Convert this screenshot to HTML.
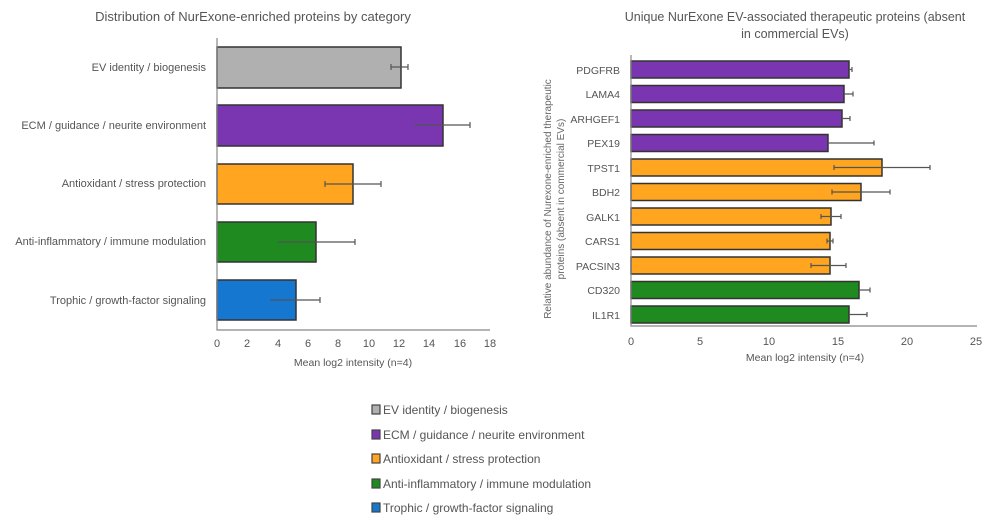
<!DOCTYPE html>
<html><head><meta charset="utf-8"><style>
html,body{margin:0;padding:0;background:#fff;}
svg{display:block;font-family:"Liberation Sans",sans-serif;}
</style></head><body>
<svg width="1000" height="523" viewBox="0 0 1000 523" xmlns="http://www.w3.org/2000/svg">
<rect width="1000" height="523" fill="#fff"/>
<!-- LEFT CHART -->
<text x="253" y="21" font-size="13" fill="#555" text-anchor="middle">Distribution of NurExone-enriched proteins by category</text>
<g font-size="11" fill="#555" text-anchor="end">
<text x="206" y="71">EV identity / biogenesis</text>
<text x="206" y="129">ECM / guidance / neurite environment</text>
<text x="206" y="187">Antioxidant / stress protection</text>
<text x="206" y="245">Anti-inflammatory / immune modulation</text>
<text x="206" y="304">Trophic / growth-factor signaling</text>
</g>
<g stroke="#333" stroke-width="1.5">
<rect x="217" y="47" width="184" height="41" fill="#b0b0b0"/>
<rect x="217" y="105" width="226" height="41" fill="#7a35b0"/>
<rect x="217" y="164" width="136" height="40" fill="#ffa51f"/>
<rect x="217" y="222" width="99" height="40" fill="#1f8a1f"/>
<rect x="217" y="280" width="79" height="40" fill="#1577d0"/>
</g>
<g stroke="#555" stroke-width="1.2">
<path d="M391 67H408M391 64v6M408 64v6"/>
<path d="M414 125H470M470 122v6"/>
<path d="M325 184H381M325 181v6M381 181v6"/>
<path d="M278 242H355M355 239v6"/>
<path d="M270 300H320M320 297v6"/>
</g>
<path d="M217 38V330H490" stroke="#888" stroke-width="1.2" fill="none"/>
<g font-size="11" fill="#555" text-anchor="middle">
<text x="217" y="347">0</text><text x="247" y="347">2</text><text x="278" y="347">4</text><text x="308" y="347">6</text><text x="338" y="347">8</text><text x="369" y="347">10</text><text x="399" y="347">12</text><text x="429" y="347">14</text><text x="460" y="347">16</text><text x="490" y="347">18</text>
<text x="353" y="366" font-size="10.5">Mean log2 intensity (n=4)</text>
</g>
<!-- RIGHT CHART -->
<g font-size="12.5" fill="#555" text-anchor="middle">
<text x="795" y="21">Unique NurExone EV-associated therapeutic proteins (absent</text>
<text x="795" y="38">in commercial EVs)</text>
</g>
<g font-size="10" fill="#666" text-anchor="middle">
<text transform="translate(551,199) rotate(-90)">Relative abundance of Nurexone-enriched therapeutic</text>
<text transform="translate(564,199) rotate(-90)">proteins (absent in commercial EVs)</text>
</g>
<g font-size="10.5" fill="#555" text-anchor="end">
<text x="620" y="74">PDGFRB</text><text x="620" y="98">LAMA4</text><text x="620" y="123">ARHGEF1</text><text x="620" y="147">PEX19</text><text x="620" y="172">TPST1</text><text x="620" y="196">BDH2</text><text x="620" y="221">GALK1</text><text x="620" y="245">CARS1</text><text x="620" y="270">PACSIN3</text><text x="620" y="294">CD320</text><text x="620" y="319">IL1R1</text>
</g>
<g stroke="#333" stroke-width="1.5">
<rect x="631" y="61" width="218" height="17" fill="#7a35b0"/>
<rect x="631" y="85.5" width="213" height="17" fill="#7a35b0"/>
<rect x="631" y="110" width="211" height="17" fill="#7a35b0"/>
<rect x="631" y="134.5" width="197" height="17" fill="#7a35b0"/>
<rect x="631" y="159" width="251" height="17" fill="#ffa51f"/>
<rect x="631" y="183.5" width="230" height="17" fill="#ffa51f"/>
<rect x="631" y="208" width="200" height="17" fill="#ffa51f"/>
<rect x="631" y="232.5" width="199" height="17" fill="#ffa51f"/>
<rect x="631" y="257" width="199" height="17" fill="#ffa51f"/>
<rect x="631" y="281.5" width="228" height="17" fill="#1f8a1f"/>
<rect x="631" y="306" width="218" height="17" fill="#1f8a1f"/>
</g>
<g stroke="#555" stroke-width="1.2">
<path d="M849 69.5H852M852 67v5"/>
<path d="M844 94H853M853 91.5v5"/>
<path d="M842 118.5H850M850 116v5"/>
<path d="M828 143H874M874 140.5v5"/>
<path d="M834 167.5H930M834 165v5M930 165v5"/>
<path d="M832 192H890M832 189.5v5M890 189.5v5"/>
<path d="M821 216.5H841M821 214v5M841 214v5"/>
<path d="M827 241H833M827 238.5v5M833 238.5v5"/>
<path d="M811 265.5H846M811 263v5M846 263v5"/>
<path d="M859 290H870M870 287.5v5"/>
<path d="M849 314.5H867M867 312v5"/>
</g>
<path d="M631 55V326H977" stroke="#888" stroke-width="1.2" fill="none"/>
<g font-size="11" fill="#555" text-anchor="middle">
<text x="631" y="345">0</text><text x="700" y="345">5</text><text x="769" y="345">10</text><text x="838" y="345">15</text><text x="907" y="345">20</text><text x="976" y="345">25</text>
<text x="805" y="361" font-size="10.5">Mean log2 intensity (n=4)</text>
</g>
<!-- LEGEND -->
<g stroke="#444" stroke-width="1.2">
<rect x="372" y="405" width="8" height="9" fill="#b0b0b0"/>
<rect x="372" y="430" width="8" height="9" fill="#7a35b0"/>
<rect x="372" y="454" width="8" height="9" fill="#ffa51f"/>
<rect x="372" y="479" width="8" height="9" fill="#1f8a1f"/>
<rect x="372" y="503" width="8" height="9" fill="#1577d0"/>
</g>
<g font-size="12" fill="#555">
<text x="383" y="414">EV identity / biogenesis</text>
<text x="383" y="439">ECM / guidance / neurite environment</text>
<text x="383" y="463">Antioxidant / stress protection</text>
<text x="383" y="488">Anti-inflammatory / immune modulation</text>
<text x="383" y="512">Trophic / growth-factor signaling</text>
</g>
</svg>
</body></html>
